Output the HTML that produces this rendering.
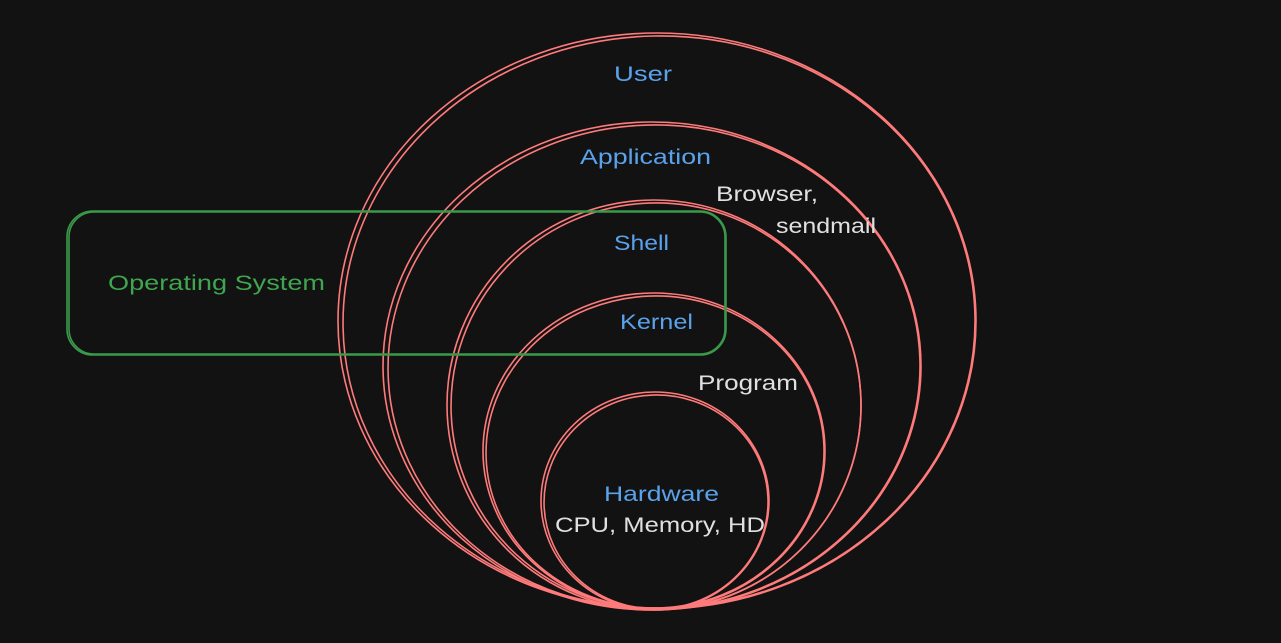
<!DOCTYPE html>
<html><head><meta charset="utf-8"><style>
html,body{margin:0;padding:0;background:#121212;}
svg{display:block}
text{font-family:"Liberation Sans",sans-serif;font-size:21px}
</style></head><body>
<svg width="1281" height="643" viewBox="0 0 1281 643">
<rect width="1281" height="643" fill="#121212"/>
<g fill="none" stroke="#ff7b7b" stroke-width="1.6">
<ellipse cx="657" cy="321" rx="319" ry="288"/>
<ellipse cx="659" cy="322" rx="316" ry="286" transform="rotate(-1 657 321)"/>
<ellipse cx="652" cy="366" rx="269" ry="244"/>
<ellipse cx="654" cy="367" rx="266" ry="242" transform="rotate(-1.5 652 366)"/>
<ellipse cx="654" cy="405" rx="207" ry="205"/>
<ellipse cx="656" cy="406" rx="205" ry="203" transform="rotate(-2 654 405)"/>
<ellipse cx="654" cy="451" rx="171" ry="158"/>
<ellipse cx="655" cy="452" rx="169" ry="156" transform="rotate(-2 654 451)"/>
<ellipse cx="655" cy="501" rx="114" ry="109"/>
<ellipse cx="656" cy="502" rx="112" ry="107" transform="rotate(-2 655 501)"/>
</g>
<g fill="none" stroke="#3b9a4a" stroke-width="1.6">
<rect x="67" y="211" width="659" height="144" rx="26"/>
<rect x="69" y="212" width="656" height="142" rx="25"/>
</g>
<text x="108" y="290" fill="#3fa54f" textLength="217" lengthAdjust="spacingAndGlyphs">Operating System</text>
<g fill="#5aa2ec">
<text x="614" y="81" textLength="58" lengthAdjust="spacingAndGlyphs">User</text>
<text x="580" y="164" textLength="131" lengthAdjust="spacingAndGlyphs">Application</text>
<text x="614" y="250" textLength="55" lengthAdjust="spacingAndGlyphs">Shell</text>
<text x="620" y="329" textLength="73" lengthAdjust="spacingAndGlyphs">Kernel</text>
<text x="604" y="501" textLength="115" lengthAdjust="spacingAndGlyphs">Hardware</text>
</g>
<g fill="#e0e0e0">
<text x="716" y="201" textLength="102" lengthAdjust="spacingAndGlyphs">Browser,</text>
<text x="776" y="233" textLength="100" lengthAdjust="spacingAndGlyphs">sendmail</text>
<text x="698" y="390" textLength="100" lengthAdjust="spacingAndGlyphs">Program</text>
<text x="555" y="532" textLength="210" lengthAdjust="spacingAndGlyphs">CPU, Memory, HD</text>
</g>
</svg>
</body></html>
